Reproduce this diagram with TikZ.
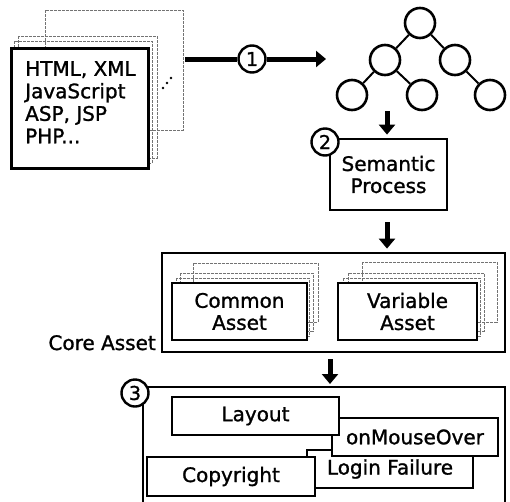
\documentclass[tikz,border=0pt]{standalone}
\usepackage{fontspec}
\setmainfont{DejaVu Sans}[FakeBold=1.2]
\usetikzlibrary{arrows.meta}
\begin{document}
\begin{tikzpicture}[x=1pt,y=-1pt,
  txt/.style={font=\fontsize{20}{22.5}\selectfont},
  box/.style={draw=black,line width=2.8pt,fill=white,inner sep=0pt,align=center,font=\fontsize{20}{22}\selectfont},
  pagebox/.style={draw=black!55,line width=0.9pt,dash pattern=on 3pt off 1pt},
  numc/.style={circle,draw=black,line width=2.4pt,fill=white,minimum size=27pt,inner sep=0pt,font=\fontsize{19}{19}\selectfont},
  tnode/.style={circle,draw=black,line width=2.6pt,minimum size=30pt,inner sep=0pt},
  tedge/.style={line width=2pt},
  shaft/.style={line width=5pt},
  arr/.style={line width=5pt,-{Triangle[length=10pt,width=16pt]}}
]
\useasboundingbox (0,0) rectangle (510,501);
\clip (0,0) rectangle (510,501);

% source pages
\draw[pagebox] (45,10) rectangle (183,130);
\draw[pagebox] (18,36) rectangle (157,158);
\draw[pagebox] (14,41) rectangle (152,163);
\node[box,anchor=north west,minimum width=137pt,minimum height=120pt] (src) at (10,47) {};
\node[txt,anchor=north west,align=left,inner sep=0pt] (srctxt) at (25,61) {HTML, XML\\JavaScript\\ASP, JSP\\PHP...};
\fill (163,88) circle (1.3pt) (167,83) circle (1.3pt) (171,78) circle (1.3pt);

% arrow 1
\coordinate (a1s) at (185,59);
\coordinate (a1e) at (326,59);
\node[numc] (c1) at (252,59) {1};
\draw[shaft] (a1s) -- (c1.west);
\draw[arr] (c1.east) -- (a1e);

% tree
\node[tnode] (t0) at (420,23) {};
\node[tnode] (t1) at (385,60) {};
\node[tnode] (t2) at (455,60) {};
\node[tnode] (t3) at (352,95) {};
\node[tnode] (t4) at (422,95) {};
\node[tnode] (t5) at (490,95) {};
\draw[tedge] (t0) -- (t1);
\draw[tedge] (t0) -- (t2);
\draw[tedge] (t1) -- (t3);
\draw[tedge] (t1) -- (t4);
\draw[tedge] (t2) -- (t5);

% semantic process
\node[box,minimum width=117pt,minimum height=71pt] (sem) at (388.5,174.5) {Semantic\\Process};
\node[numc] (c2) at (325,142) {2};
\coordinate (d1) at (387,111);
\draw[arr,shorten >=3pt] (d1) -- (d1 |- sem.north);

% core asset
\coordinate (d2) at (387,222);
\node[box,minimum width=343pt,minimum height=99pt] (core) at (333.5,302.5) {};
\draw[arr,shorten >=3pt] (d2) -- (d2 |- core.north);
\node[txt,anchor=base east,inner sep=0pt] (corelbl) at (156,350) {Core Asset};

\draw[pagebox] (193,263) rectangle (318,322);
\draw[pagebox] (180,273) rectangle (313,331);
\draw[pagebox] (176,278) rectangle (309,336);
\node[box,minimum width=135pt,minimum height=57pt] (common) at (239.5,311.5) {Common\\Asset};

\draw[pagebox] (362,262) rectangle (497,322);
\draw[pagebox] (348,273) rectangle (484,331);
\draw[pagebox] (343,278) rectangle (480,336);
\node[box,minimum width=139pt,minimum height=57pt] (variable) at (407.5,311.5) {Variable\\Asset};

% arrow 3 and output frame
\coordinate (d3) at (330,359);
\coordinate (f1) at (143,505);
\coordinate (f2) at (143,387);
\coordinate (f3) at (505,387);
\coordinate (f4) at (505,505);
\draw[line width=2.4pt] (f1) -- (f2) -- (f3) -- (f4);
\draw[arr,shorten >=3pt] (d3) -- (d3 |- f2);
\node[numc] (c3) at (135,393) {3};

\node[box,minimum width=166pt,minimum height=38pt] (login) at (390,469) {Login Failure};
\node[box,minimum width=166pt,minimum height=38pt] (mouse) at (415,437) {onMouseOver};
\node[box,minimum width=167pt,minimum height=38pt] (layout) at (255.5,416) {Layout};
\node[box,minimum width=168pt,minimum height=39pt] (copy) at (231,476.5) {Copyright};
\end{tikzpicture}
\end{document}
